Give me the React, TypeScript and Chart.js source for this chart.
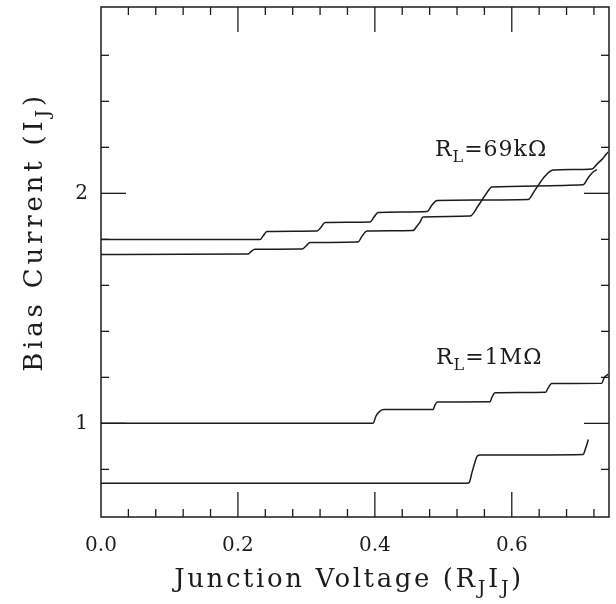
import React, { useEffect, useRef } from "react";
import { Chart, registerables } from "chart.js";

Chart.register(...registerables);

// Axis ranges
const X_MIN = 0;
const X_MAX = 0.742;
const Y_MIN = 0.593;
const Y_MAX = 2.81;

// Tick values
const xLabelTicks = [0, 0.2, 0.4, 0.6];
const xMajorTicks = [0.2, 0.4, 0.6];
const xMinorTicks = [0.04, 0.08, 0.12, 0.16, 0.24, 0.28, 0.32, 0.36, 0.44, 0.48, 0.52, 0.56, 0.64, 0.68, 0.72];
const yLabelTicks = [1, 2];
const yMajorTicks = [1, 2];
const yMinorTicks = [0.8, 1.2, 1.4, 1.6, 1.8, 2.2, 2.4, 2.6];

// R_L = 69 kOhm, upper branch
const rl69aX = [0, 0.2323, 0.2366, 0.2425, 0.3155, 0.3214, 0.3272, 0.3929, 0.3988, 0.4046, 0.4762, 0.4835, 0.4908, 0.6237, 0.6339, 0.6486, 0.6602, 0.7172, 0.7245, 0.7333, 0.7406];
const rl69aY = [1.799, 1.799, 1.814, 1.834, 1.836, 1.853, 1.873, 1.875, 1.897, 1.917, 1.921, 1.949, 1.969, 1.973, 2.014, 2.075, 2.101, 2.106, 2.127, 2.153, 2.18];

// R_L = 69 kOhm, lower branch
const rl69bX = [0, 0.2147, 0.2191, 0.2249, 0.2936, 0.2994, 0.3053, 0.3754, 0.3813, 0.3886, 0.4557, 0.4616, 0.466, 0.4704, 0.539, 0.5507, 0.5624, 0.5711, 0.704, 0.7114, 0.7187, 0.7245];
const rl69bY = [1.734, 1.736, 1.747, 1.757, 1.758, 1.771, 1.786, 1.788, 1.814, 1.836, 1.838, 1.858, 1.875, 1.897, 1.901, 1.945, 1.997, 2.028, 2.037, 2.067, 2.093, 2.103];

// R_L = 1 MOhm, upper branch
const rl1mAX = [0, 0.3973, 0.4017, 0.4075, 0.4134, 0.485, 0.4879, 0.4915, 0.5682, 0.5711, 0.5755, 0.6496, 0.6529, 0.6583, 0.7314, 0.7347, 0.741];
const rl1mAY = [1.0, 1.0, 1.032, 1.053, 1.06, 1.06, 1.08, 1.093, 1.094, 1.114, 1.133, 1.135, 1.153, 1.173, 1.174, 1.197, 1.214];

// R_L = 1 MOhm, lower branch
const rl1mBX = [0, 0.5346, 0.538, 0.542, 0.5463, 0.5497, 0.5536, 0.7045, 0.707, 0.7099, 0.7118];
const rl1mBY = [0.74, 0.74, 0.744, 0.788, 0.832, 0.858, 0.862, 0.865, 0.884, 0.91, 0.93];

const TEXT_FONT = '"DejaVu Serif", serif';
const TICK_FONT = '"DejaVu Serif", serif';
const INK = "#1c1c1c";

type Part = { t: string; sub?: boolean };

function drawRich(
  ctx: CanvasRenderingContext2D,
  parts: Part[],
  x: number,
  y: number,
  size: number,
  align: "left" | "center",
  spacing: number
) {
  const subSize = Math.round(size * 0.72);
  (ctx as any).letterSpacing = `${spacing}px`;
  let total = 0;
  parts.forEach((p) => {
    ctx.font = `${p.sub ? subSize : size}px ${TEXT_FONT}`;
    total += ctx.measureText(p.t).width;
  });
  let cx = align === "center" ? x - total / 2 : x;
  ctx.textBaseline = "alphabetic";
  ctx.textAlign = "left";
  parts.forEach((p) => {
    ctx.font = `${p.sub ? subSize : size}px ${TEXT_FONT}`;
    ctx.fillText(p.t, cx, p.sub ? y + size * 0.28 : y);
    cx += ctx.measureText(p.t).width;
  });
  (ctx as any).letterSpacing = "0px";
}

const decorPlugin = {
  id: "decor",
  afterDraw(chart: any) {
    const { ctx, chartArea: a, scales } = chart;
    const xs = scales.x;
    const ys = scales.y;
    ctx.save();
    ctx.strokeStyle = INK;
    ctx.fillStyle = INK;
    ctx.lineWidth = 1.5;
    ctx.strokeRect(a.left, a.top, a.right - a.left, a.bottom - a.top);
    ctx.lineWidth = 1.3;
    const seg = (x1: number, y1: number, x2: number, y2: number) => {
      ctx.beginPath();
      ctx.moveTo(x1, y1);
      ctx.lineTo(x2, y2);
      ctx.stroke();
    };
    const minorLen = 8;
    const majorLen = 25;
    xMinorTicks.forEach((v) => {
      const p = xs.getPixelForValue(v);
      seg(p, a.bottom, p, a.bottom - minorLen);
      seg(p, a.top, p, a.top + minorLen);
    });
    xMajorTicks.forEach((v) => {
      const p = xs.getPixelForValue(v);
      seg(p, a.bottom, p, a.bottom - majorLen);
      seg(p, a.top, p, a.top + majorLen);
    });
    yMinorTicks.forEach((v) => {
      const p = ys.getPixelForValue(v);
      seg(a.left, p, a.left + minorLen, p);
      seg(a.right, p, a.right - minorLen, p);
    });
    yMajorTicks.forEach((v) => {
      const p = ys.getPixelForValue(v);
      seg(a.left, p, a.left + majorLen, p);
      seg(a.right, p, a.right - majorLen, p);
    });

    // Axis titles
    drawRich(
      ctx,
      [{ t: "Junction Voltage (R" }, { t: "J", sub: true }, { t: "I" }, { t: "J", sub: true }, { t: ")" }],
      (a.left + a.right) / 2 - 6,
      587,
      26,
      "center",
      2.6
    );
    ctx.save();
    ctx.translate(42, 232);
    ctx.rotate(-Math.PI / 2);
    drawRich(ctx, [{ t: "Bias Current (I" }, { t: "J", sub: true }, { t: ")" }], 0, 0, 26, "center", 3.8);
    ctx.restore();

    // Curve annotations
    drawRich(ctx, [{ t: "R" }, { t: "L", sub: true }, { t: "=69k\u03A9" }], 435, 156, 22, "left", 1);
    drawRich(ctx, [{ t: "R" }, { t: "L", sub: true }, { t: "=1M\u03A9" }], 436, 364, 22, "left", 1);
    ctx.restore();
  },
};

function pts(xsArr: number[], ysArr: number[]) {
  return xsArr.map((x, i) => ({ x, y: ysArr[i] }));
}

export default function App() {
  const ref = useRef<HTMLCanvasElement | null>(null);
  useEffect(() => {
    if (!ref.current) return;
    const line = (data: { x: number; y: number }[]) => ({
      data,
      showLine: true,
      borderColor: INK,
      borderWidth: 1.5,
      pointRadius: 0,
      fill: false,
      cubicInterpolationMode: "monotone" as const,
    });
    const chart = new Chart(ref.current, {
      type: "scatter",
      data: {
        datasets: [
          line(pts(rl69aX, rl69aY)),
          line(pts(rl69bX, rl69bY)),
          line(pts(rl1mAX, rl1mAY)),
          line(pts(rl1mBX, rl1mBY)),
        ],
      },
      options: {
        animation: false,
        responsive: false,
        devicePixelRatio: 1,
        layout: { padding: { left: 0, right: 7, top: 7, bottom: 0 } },
        plugins: { legend: { display: false }, tooltip: { enabled: false } },
        scales: {
          x: {
            type: "linear",
            min: X_MIN,
            max: X_MAX,
            grid: { display: false, drawTicks: false },
            border: { display: false },
            afterBuildTicks: (s: any) => {
              s.ticks = xLabelTicks.map((v) => ({ value: v }));
            },
            afterFit: (s: any) => {
              s.height = 87;
              s.paddingLeft = 0;
              s.paddingRight = 0;
            },
            ticks: {
              padding: 17,
              color: INK,
              font: { family: TICK_FONT, size: 20 },
              maxRotation: 0,
              autoSkip: false,
              callback: (v: any) => Number(v).toFixed(1),
            },
          },
          y: {
            type: "linear",
            min: Y_MIN,
            max: Y_MAX,
            grid: { display: false, drawTicks: false },
            border: { display: false },
            afterBuildTicks: (s: any) => {
              s.ticks = yLabelTicks.map((v) => ({ value: v }));
            },
            afterFit: (s: any) => {
              s.width = 101;
              s.paddingTop = 0;
              s.paddingBottom = 0;
            },
            ticks: {
              padding: 13,
              color: INK,
              font: { family: TICK_FONT, size: 20 },
              autoSkip: false,
              callback: (v: any) => String(Math.round(Number(v))),
            },
          },
        },
      },
      plugins: [decorPlugin],
    });
    return () => chart.destroy();
  }, []);
  return (
    <div style={{ position: "absolute", left: 0, top: 0, width: 616, height: 604, background: "#fff" }}>
      <canvas ref={ref} width={616} height={604} style={{ display: "block", width: 616, height: 604 }} />
    </div>
  );
}
